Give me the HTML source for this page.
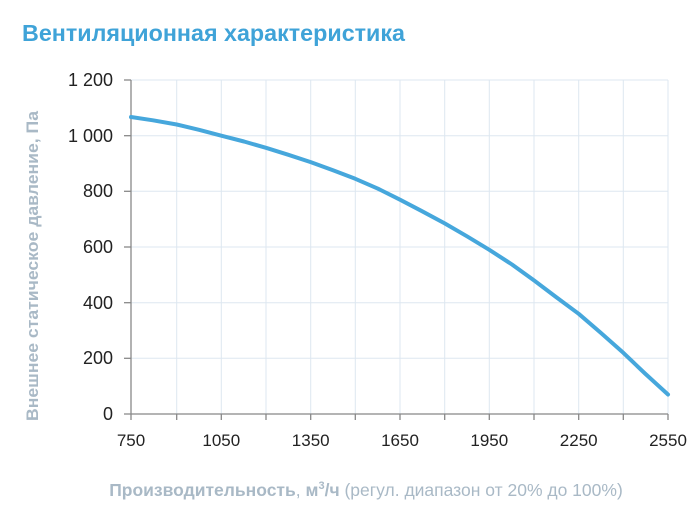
<!DOCTYPE html>
<html><head><meta charset="utf-8"><style>
html,body{margin:0;padding:0;background:#fff;}
svg{display:block;font-family:"Liberation Sans",sans-serif;}
</style></head><body>
<svg width="700" height="513" viewBox="0 0 700 513">
<text x="22" y="41" font-size="23" font-weight="bold" fill="#3fa3d8" textLength="383" lengthAdjust="spacingAndGlyphs">Вентиляционная характеристика</text>
<g stroke="#dde7f0" stroke-width="1">
<line x1="176.7" y1="80" x2="176.7" y2="414"/><line x1="221.3" y1="80" x2="221.3" y2="414"/>
<line x1="266" y1="80" x2="266" y2="414"/><line x1="310.7" y1="80" x2="310.7" y2="414"/>
<line x1="355.3" y1="80" x2="355.3" y2="414"/><line x1="400" y1="80" x2="400" y2="414"/>
<line x1="444.7" y1="80" x2="444.7" y2="414"/><line x1="489.3" y1="80" x2="489.3" y2="414"/>
<line x1="534" y1="80" x2="534" y2="414"/><line x1="578.7" y1="80" x2="578.7" y2="414"/>
<line x1="623.3" y1="80" x2="623.3" y2="414"/><line x1="668" y1="80" x2="668" y2="414"/>
<line x1="131" y1="80" x2="668" y2="80"/><line x1="131" y1="135.7" x2="668" y2="135.7"/>
<line x1="131" y1="191.3" x2="668" y2="191.3"/><line x1="131" y1="247" x2="668" y2="247"/>
<line x1="131" y1="302.7" x2="668" y2="302.7"/><line x1="131" y1="358.3" x2="668" y2="358.3"/>
</g>
<g stroke="#888" stroke-width="1.3">
<line x1="131" y1="80" x2="131" y2="414"/><line x1="124" y1="414" x2="668" y2="414"/>
<line x1="124" y1="80" x2="131" y2="80"/><line x1="124" y1="135.7" x2="131" y2="135.7"/>
<line x1="124" y1="191.3" x2="131" y2="191.3"/><line x1="124" y1="247" x2="131" y2="247"/>
<line x1="124" y1="302.7" x2="131" y2="302.7"/><line x1="124" y1="358.3" x2="131" y2="358.3"/>
<line x1="131" y1="414" x2="131" y2="420"/><line x1="176.7" y1="414" x2="176.7" y2="420"/>
<line x1="221.3" y1="414" x2="221.3" y2="420"/><line x1="266" y1="414" x2="266" y2="420"/>
<line x1="310.7" y1="414" x2="310.7" y2="420"/><line x1="355.3" y1="414" x2="355.3" y2="420"/>
<line x1="400" y1="414" x2="400" y2="420"/><line x1="444.7" y1="414" x2="444.7" y2="420"/>
<line x1="489.3" y1="414" x2="489.3" y2="420"/><line x1="534" y1="414" x2="534" y2="420"/>
<line x1="578.7" y1="414" x2="578.7" y2="420"/><line x1="623.3" y1="414" x2="623.3" y2="420"/>
<line x1="668" y1="414" x2="668" y2="420"/>
</g>
<g font-size="18" fill="#222" text-anchor="end">
<text x="113" y="86">1 200</text><text x="113" y="142">1 000</text>
<text x="113" y="197">800</text><text x="113" y="253">600</text>
<text x="113" y="309">400</text><text x="113" y="364">200</text><text x="113" y="420">0</text>
</g>
<g font-size="17" fill="#222" text-anchor="middle">
<text x="131" y="446">750</text><text x="221.3" y="446">1050</text><text x="310.7" y="446">1350</text>
<text x="400" y="446">1650</text><text x="489.3" y="446">1950</text><text x="578.7" y="446">2250</text>
<text x="668" y="446">2550</text>
</g>
<text transform="translate(38,266) rotate(-90)" text-anchor="middle" font-size="17" font-weight="bold" fill="#a9b9c6" textLength="310" lengthAdjust="spacingAndGlyphs">Внешнее статическое давление, Па</text>
<text x="366" y="496" text-anchor="middle" font-size="17.5" fill="#a9b9c6"><tspan font-weight="bold">Производительность</tspan>, <tspan font-weight="bold">м<tspan font-size="11" dy="-7">3</tspan><tspan dy="7">/ч</tspan></tspan> (регул. диапазон от 20% до 100%)</text>
<polyline fill="none" stroke="#46a7dc" stroke-width="4" stroke-linejoin="round" stroke-linecap="round"
points="131,117 153,120.3 176.7,124.5 199,129.8 221.3,135.7 244,141.5 266,147.8 288,154.7 310.7,162.1 333,170.2 355.3,178.8 378,188.7 400,199.7 422,211.2 444.7,223.4 467,236.3 489.3,249.8 512,264.5 534,280.4 556,297 578.7,313.8 601,333 623.3,352.8 645,373.5 668,394.5"/>
</svg>
</body></html>
